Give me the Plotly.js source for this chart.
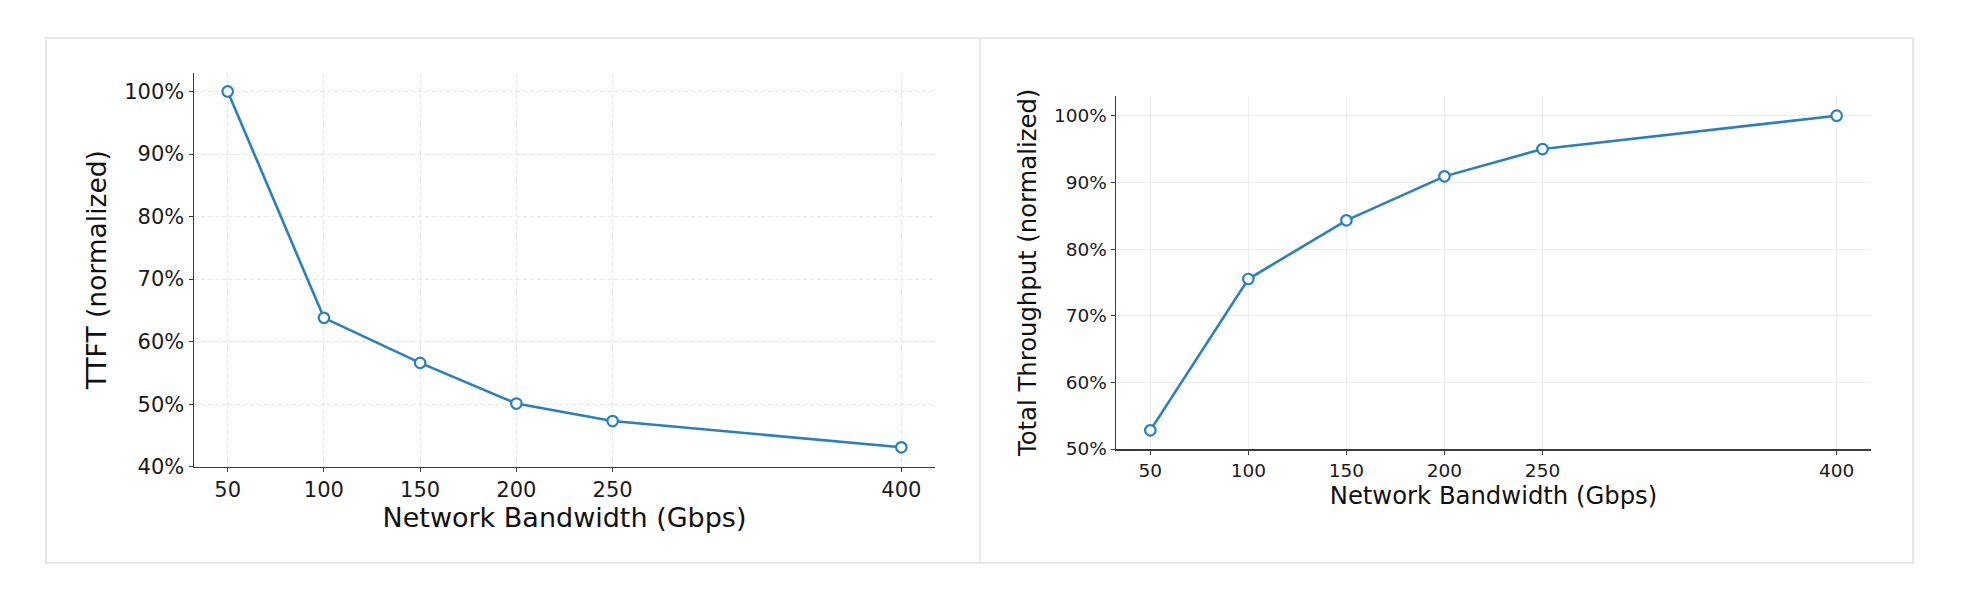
<!DOCTYPE html>
<html>
<head>
<meta charset="utf-8">
<script src="https://cdn.plot.ly/plotly-3.0.1.min.js"></script>
<style>
  html, body { margin: 0; padding: 0; background: #fff; }
  #chart { width: 1985px; height: 616px; }
</style>
</head>
<body>
<div id="chart"></div>
<script>
const bandwidth = [50, 100, 150, 200, 250, 400];
const ttftNorm = [1.0, 0.638, 0.566, 0.501, 0.473, 0.431];
const throughputNorm = [0.528, 0.755, 0.843, 0.909, 0.950, 1.0];
const xTicks = [50, 100, 150, 200, 250, 400];

const W = 1985;
const H = 616;
const BLUE = '#2b80bb';
const FONT = 'DejaVu Sans, sans-serif';

const px = (x) => x / W;
const py = (y) => 1 - y / H;

const lineTrace = (y, xa, ya) => ({
  type: 'scatter',
  mode: 'lines+markers',
  x: bandwidth,
  y,
  xaxis: xa,
  yaxis: ya,
  line: { color: BLUE, width: 2.6 },
  marker: { size: 10.5, color: '#ffffff', line: { color: BLUE, width: 2.2 } },
  hoverinfo: 'x+y',
  showlegend: false
});

const baseAxis = (fontSize) => ({
  showline: true,
  linecolor: '#3a3a3a',
  linewidth: 1.5,
  ticks: 'outside',
  ticklen: 4,
  tickwidth: 1,
  tickcolor: '#3a3a3a',
  zeroline: false,
  tickfont: { family: FONT, size: fontSize, color: '#1a1a1a' }
});

const data = [
  lineTrace(ttftNorm, 'x', 'y'),
  lineTrace(throughputNorm, 'x2', 'y2')
];

const layout = {
  width: W,
  height: H,
  margin: { l: 0, r: 0, t: 0, b: 0 },
  paper_bgcolor: '#ffffff',
  plot_bgcolor: '#ffffff',
  font: { family: FONT, color: '#1a1a1a' },
  xaxis: {
    ...baseAxis(21),
    domain: [px(194), px(935)],
    range: [32.5, 417.5],
    tickvals: xTicks,
    anchor: 'y',
    showgrid: true,
    gridcolor: '#e6e6e6',
    griddash: '4px,3px',
    gridwidth: 1,
    title: { text: 'Network Bandwidth (Gbps)', font: { family: FONT, size: 27, color: '#111' }, standoff: 3 }
  },
  yaxis: {
    ...baseAxis(21),
    domain: [py(466.7), py(72.7)],
    range: [0.40, 1.03],
    dtick: 0.1,
    tick0: 0.4,
    tickformat: '.0%',
    anchor: 'x',
    showgrid: true,
    gridcolor: '#e6e6e6',
    griddash: '4px,3px',
    gridwidth: 1,
    title: { text: 'TTFT (normalized)', font: { family: FONT, size: 26.5, color: '#111' }, standoff: 10 }
  },
  xaxis2: {
    ...baseAxis(18.5),
    domain: [px(1116), px(1871)],
    range: [32.5, 417.5],
    tickvals: xTicks,
    anchor: 'y2',
    showgrid: true,
    gridcolor: '#ececec',
    gridwidth: 1,
    title: { text: 'Network Bandwidth (Gbps)', font: { family: FONT, size: 24.3, color: '#111' }, standoff: 2 }
  },
  yaxis2: {
    ...baseAxis(18.5),
    domain: [py(449), py(95.7)],
    range: [0.50, 1.03],
    dtick: 0.1,
    tick0: 0.5,
    tickformat: '.0%',
    anchor: 'x2',
    showgrid: true,
    gridcolor: '#ececec',
    gridwidth: 1,
    title: { text: 'Total Throughput (normalized)', font: { family: FONT, size: 24.3, color: '#111' }, standoff: 10 }
  },
  shapes: [
    {
      type: 'rect', xref: 'paper', yref: 'paper', layer: 'below',
      x0: px(46), x1: px(1913), y0: py(563), y1: py(38),
      line: { color: '#e5e7eb', width: 2 }, fillcolor: 'rgba(0,0,0,0)'
    },
    {
      type: 'line', xref: 'paper', yref: 'paper', layer: 'below',
      x0: px(980), x1: px(980), y0: py(563), y1: py(38),
      line: { color: '#e5e7eb', width: 2 }
    }
  ]
};

Plotly.newPlot('chart', data, layout, { displayModeBar: false, staticPlot: true });
</script>
</body>
</html>
